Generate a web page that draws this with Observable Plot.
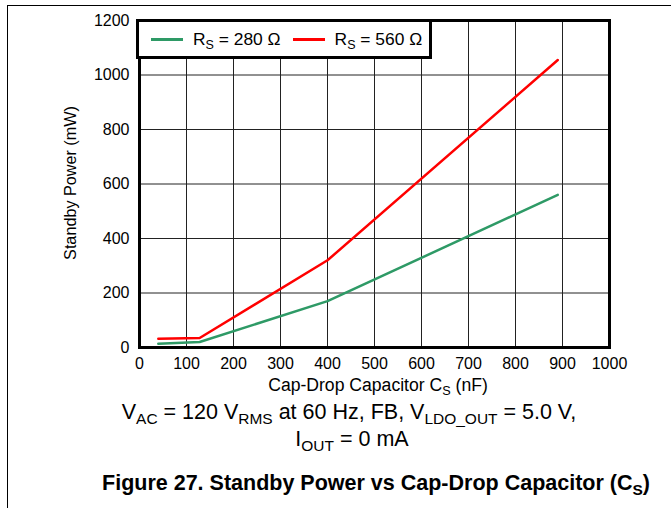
<!DOCTYPE html>
<html>
<head>
<meta charset="utf-8">
<script src="https://cdn.jsdelivr.net/npm/d3@7"></script>
<script src="https://cdn.jsdelivr.net/npm/@observablehq/plot@0.6"></script>
<style>
  body { margin: 0; background: #fff; font-family: "Liberation Sans", Arial, sans-serif; color: #000; }
  #wrap { position: relative; width: 671px; height: 508px; overflow: hidden; }
  #border { position: absolute; left: 7px; top: 5px; width: 700px; height: 600px; border-left: 1px solid #000; border-top: 1px solid #000; }
  #chart { position: absolute; left: 0; top: 0; }
  .sub { font-size: 72%; position: relative; top: 0.32em; line-height: 0; }
  #legend { position: absolute; left: 136px; top: 19px; width: 290px; height: 34px; border: 3px solid #000; background: #fff;
            display: flex; align-items: center; font-size: 17.4px; white-space: nowrap; }
  .sw { display: inline-block; width: 32px; height: 3px; margin: 0 10px 0 12px; }
  #ylabel { position: absolute; left: -30px; top: 172px; width: 200px; height: 22px; line-height: 22px; text-align: center;
            font-size: 16.2px; transform: rotate(-90deg); transform-origin: 100px 11px; white-space: nowrap; }
  #xlabel { position: absolute; left: 178px; width: 400px; top: 374px; line-height: 22px; text-align: center; font-size: 17.6px; white-space: nowrap; }
  .cap { position: absolute; left: 0; width: 698px; text-align: center; font-size: 21.5px; line-height: 24px; white-space: nowrap; }
  #fig { position: absolute; left: 0; width: 752px; top: 471px; line-height: 24px; text-align: center; font-size: 21.5px; font-weight: bold; white-space: nowrap; }
</style>
</head>
<body>
<div id="wrap">
  <div id="border"></div>
  <div id="chart"></div>
  <div id="legend"></div>
  <div id="ylabel">Standby Power (mW)</div>
  <div id="xlabel">Cap-Drop Capacitor C<span class="sub">S</span> (nF)</div>
  <div class="cap" style="top:400px">V<span class="sub">AC</span> = 120 V<span class="sub">RMS</span> at 60 Hz, FB, V<span class="sub">LDO_OUT</span> = 5.0 V,</div>
  <div class="cap" style="top:427px;width:704px">I<span class="sub">OUT</span> = 0 mA</div>
  <div id="fig">Figure 27. Standby Power vs Cap-Drop Capacitor (C<span class="sub">S</span>)</div>
</div>
<script>
// Data
const seriesNames = ["RS = 280 Ω", "RS = 560 Ω"];
const seriesColors = ["#2e9a66", "#ff0000"];
const capacitanceNF = [40, 128, 400, 890];
const power280 = [14, 20, 170, 560];
const power560 = [32, 35, 320, 1055];
const xTicks = [0, 100, 200, 300, 400, 500, 600, 700, 800, 900, 1000];
const yTicks = [0, 200, 400, 600, 800, 1000, 1200];

const rows = [];
capacitanceNF.forEach((c, i) => rows.push({ c, p: power280[i], s: seriesNames[0] }));
capacitanceNF.forEach((c, i) => rows.push({ c, p: power560[i], s: seriesNames[1] }));

const chart = Plot.plot({
  width: 671,
  height: 400,
  marginLeft: 139,
  marginRight: 62,
  marginTop: 20,
  marginBottom: 53,
  style: { fontFamily: "Liberation Sans, Arial, sans-serif", fontSize: "16px", color: "#000", background: "transparent", overflow: "visible" },
  x: { domain: [0, 1000] },
  y: { domain: [0, 1200] },
  color: { domain: seriesNames, range: seriesColors },
  marks: [
    Plot.gridX(xTicks, { stroke: "#222", strokeOpacity: 1, strokeWidth: 1 }),
    Plot.gridY(yTicks, { stroke: "#222", strokeOpacity: 1, strokeWidth: 1 }),
    Plot.line(rows, { x: "c", y: "p", z: "s", stroke: "s", strokeWidth: 2.5 }),
    Plot.frame({ stroke: "#000", strokeWidth: 3 }),
    Plot.axisX(xTicks, { tickSize: 0, tickPadding: 10, label: null, fontSize: 16, tickFormat: d3.format("d") }),
    Plot.axisY(yTicks, { tickSize: 0, tickPadding: 10, label: null, fontSize: 16, tickFormat: d3.format("d") })
  ]
});
document.getElementById("chart").appendChild(chart);

// legend
const legend = document.getElementById("legend");
seriesNames.forEach((name, i) => {
  const sw = document.createElement("span");
  sw.className = "sw";
  sw.style.background = seriesColors[i];
  legend.appendChild(sw);
  const t = document.createElement("span");
  t.innerHTML = 'R<span class="sub">S</span>' + name.slice(2);
  legend.appendChild(t);
});
</script>
</body>
</html>
